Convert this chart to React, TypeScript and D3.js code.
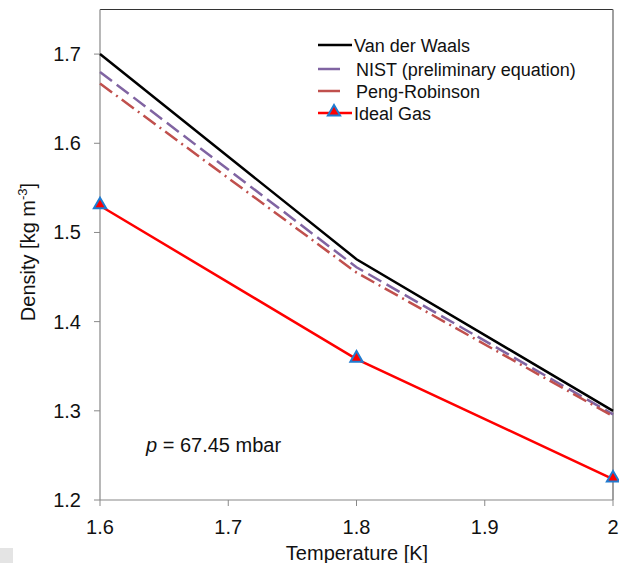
import React from "react";
import * as d3 from "d3";

const temperatures = [1.6, 1.8, 2.0];
const vanDerWaals = [1.70, 1.47, 1.30];
const nist = [1.68, 1.461, 1.296];
const pengRobinson = [1.667, 1.455, 1.294];
const idealGas = [1.53, 1.358, 1.2235];
const xTicks = [1.6, 1.7, 1.8, 1.9, 2.0];
const yTicks = [1.2, 1.3, 1.4, 1.5, 1.6, 1.7];

const W = 619, H = 563;
const L = 100, R = 613, T = 9.5, B = 500;

export default function App() {
  const x = d3.scaleLinear().domain([1.6, 2.0]).range([L, R]);
  const y = d3.scaleLinear().domain([1.2, 1.75]).range([B, T]);
  const line = (vals: number[]) =>
    d3.line<number>().x((_, i) => x(temperatures[i])).y((d) => y(d))(vals) || "";
  const tri = d3.symbol().type(d3.symbolTriangle).size(65)() || "";
  const font = "Liberation Sans, Arial, sans-serif";
  const series = [
    { name: "Van der Waals", vals: vanDerWaals, color: "#000000", dash: "", w: 2.5 },
    { name: "NIST (preliminary equation)", vals: nist, color: "#8064A2", dash: "15,6", w: 2.5 },
    { name: "Peng-Robinson", vals: pengRobinson, color: "#C0504D", dash: "15,5,2,5", w: 2.5 },
    { name: "Ideal Gas", vals: idealGas, color: "#FF0000", dash: "", w: 2.5 },
  ];
  const legendY = [45, 69, 91, 113];
  return (
    <svg width={W} height={H} style={{ position: "absolute", left: 0, top: 0 }} fontFamily={font}>
      <rect x={0} y={0} width={W} height={H} fill="#fff" />
      <rect x={0} y={548} width={13} height={15} fill="#e4e4e4" />
      {/* frame */}
      <line x1={L} x2={R} y1={T} y2={T} stroke="#333" strokeWidth={1.2} />
      <line x1={R} x2={R} y1={T} y2={B} stroke="#888" strokeWidth={1.6} />
      <line x1={L} x2={L} y1={T} y2={B} stroke="#888" strokeWidth={1.2} />
      <line x1={L} x2={R} y1={B} y2={B} stroke="#888" strokeWidth={1.2} />
      {yTicks.map((t) => (
        <g key={"y" + t}>
          <line x1={L - 6} x2={L} y1={y(t)} y2={y(t)} stroke="#888" />
          <text x={81} y={y(t) + 7} textAnchor="end" fontSize={20} fill="#111">
            {t.toFixed(1)}
          </text>
        </g>
      ))}
      {xTicks.map((t) => (
        <g key={"x" + t}>
          <line x1={x(t)} x2={x(t)} y1={B} y2={B + 6} stroke="#888" />
          <text x={x(t)} y={534} textAnchor="middle" fontSize={20} fill="#111">
            {t === 2 ? "2" : t.toFixed(1)}
          </text>
        </g>
      ))}
      <text x={357} y={560} textAnchor="middle" fontSize={20} fill="#111">Temperature [K]</text>
      <text transform="translate(35,252) rotate(-90)" textAnchor="middle" fontSize={20} fill="#111">
        Density [kg m<tspan dy={-8} fontSize={13}>-3</tspan><tspan dy={8}>]</tspan>
      </text>
      <text x={146} y={452} fontSize={20} fill="#111">
        <tspan fontStyle="italic">p</tspan> = 67.45 mbar
      </text>
      {series.map((s) => (
        <path key={s.name} d={line(s.vals)} fill="none" stroke={s.color} strokeWidth={s.w}
          strokeDasharray={s.dash || undefined} />
      ))}
      {idealGas.map((v, i) => (
        <path key={"m" + i} d={tri} transform={`translate(${x(temperatures[i])},${y(v) - 1})`}
          fill="#FF0000" stroke="#1F7BD0" strokeWidth={2} />
      ))}
      {series.map((s, i) => (
        <g key={"lg" + i}>
          <line x1={318} x2={i === 1 || i === 2 ? 340 : 352} y1={legendY[i]} y2={legendY[i]}
            stroke={s.color} strokeWidth={2.5} />
          {i === 3 && (
            <path d={tri} transform={`translate(334,${legendY[i] - 1})`} fill="#FF0000" stroke="#1F7BD0" strokeWidth={2} />
          )}
          <text x={i === 0 || i === 3 ? 354 : 356} y={legendY[i] + 6.5} fontSize={18} fill="#111">{s.name}</text>
        </g>
      ))}
    </svg>
  );
}
